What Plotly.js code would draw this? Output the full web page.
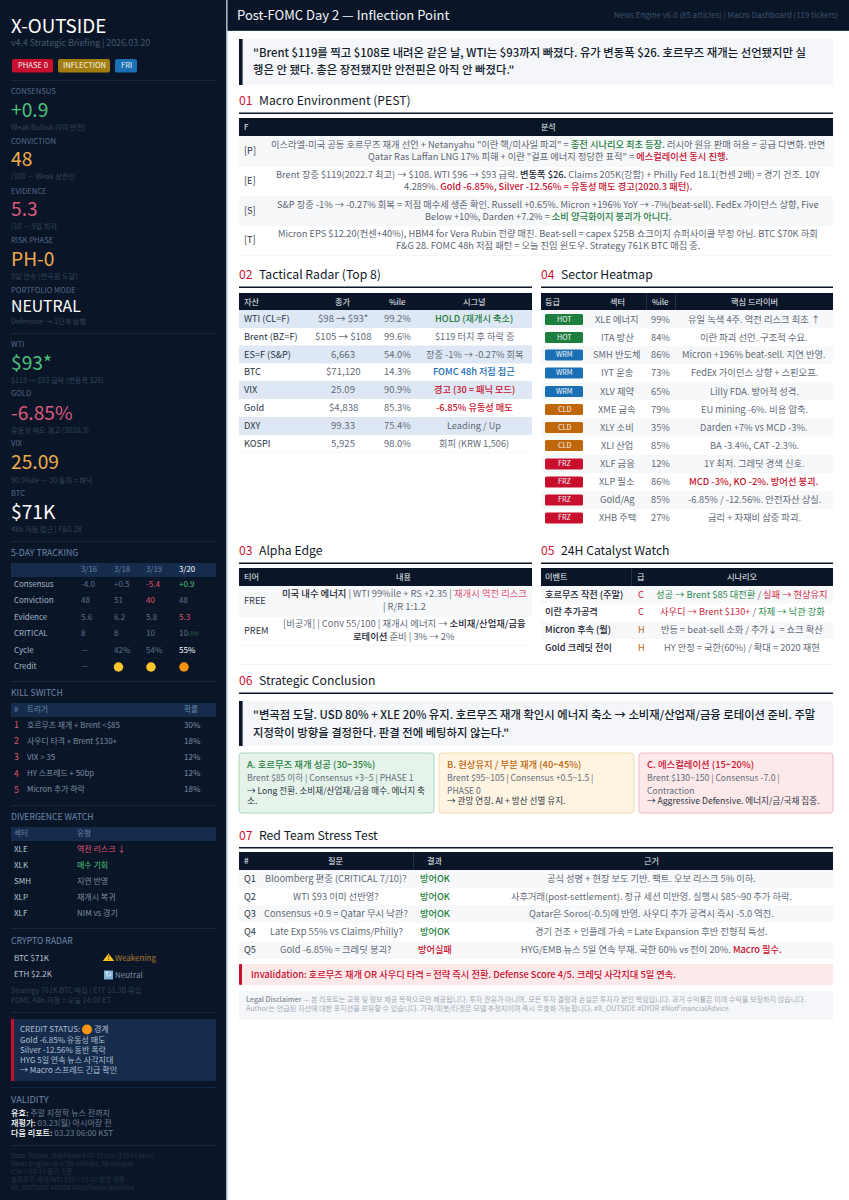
<!DOCTYPE html>
<html><head><meta charset="utf-8">
<script src="https://cdn.plot.ly/plotly-3.0.1.min.js"></script>
<style>html,body{margin:0;padding:0;background:#fff}#c{width:849px;height:1200px}</style></head>
<body><div id="c"></div>
<script>
// ---------- data ----------
const brandTitle = "X-OUTSIDE";
const brandSub = "v4.4 Strategic Briefing | 2026.03.20";
const badgeLabels = ["PHASE 0","INFLECTION","FRI"];
const kpiLabels = ["CONSENSUS","CONVICTION","EVIDENCE","RISK PHASE","PORTFOLIO MODE","WTI","GOLD","VIX","BTC"];
const kpiValues = ["+0.9","48","5.3","PH-0","NEUTRAL","$93*","-6.85%","25.09","$71K"];
const kpiNotes = ["Weak Bullish (V자 반전)","/100 — Weak 상한선","/10 — 5일 최저","5일 연속 (변곡점 도달)","Defensive → 1단계 상향","$119 → $93 급락 (변동폭 $26)","유동성 매도 경고 (2020.3)","90.9%ile — 30 돌파 = 패닉","48h 저점 접근 | F&G 28"];
const trackDates = ["3/16","3/18","3/19","3/20"];
const trackRows = ["Consensus","Conviction","Evidence","CRITICAL","Cycle","Credit"];
const trackConsensus = ["-4.0","+0.5","<r>-5.4</r>","<g>+0.9</g>"];
const trackConviction = ["48","51","<r>40</r>","48"];
const trackEvidence = ["5.6","6.2","5.8","<r>5.3</r>"];
const trackCritical = ["8","8","10","10"];
const trackCycle = ["—","42%","54%","<w>55%</w>"];
const trackCreditNote = ["—"];
const creditDates = ["3/18","3/19","3/20"];
const creditLevel = ["yellow","yellow","orange"];
const killHead = ["#","트리거","확률"];
const killTriggers = ["호르무즈 재개 + Brent &lt;$85","사우디 타격 + Brent $130+","VIX &gt; 35","HY 스프레드 + 50bp","Micron 추가 하락"];
const killProb = ["30%","18%","12%","12%","18%"];
const divHead = ["섹터","유형"];
const divSectors = ["XLE","XLK","SMH","XLP","XLF"];
const divTypes = ["<r>역전 리스크 ↓</r>","<g>매수 기회</g>","지연 반영","재개시 복귀","NIM vs 경기"];
const cryptoNames = ["BTC $71K","ETH $2.2K"];
const cryptoStates = ["Weakening","Neutral"];
const cryptoNotes = ["Strategy 761K BTC 매집 | ETF $1.3B 유입","FOMC 48h 저점 = 오늘 14:00 ET"];
const creditHead = "CREDIT STATUS:";
const creditState = "경계";
const creditLines = ["Gold -6.85% 유동성 매도","Silver -12.56% 동반 폭락","HYG 5일 연속 뉴스 사각지대","→ Macro 스프레드 긴급 확인"];
const validityKeys = ["유효:","재평가:","다음 리포트:"];
const validityVals = ["주말 지정학 뉴스 전까지","03.23(월) 아시아장 전","03.23 06:00 KST"];
const footLines = ["Data: Master_Dashboard 03-19.csv (119 tickers)","News Engine v6.0 (85 articles, 58 unique)","CSV = 03-19 종가 기준","호르무즈 재개/WTI $93 = 03-20 반영 예정","#X_OUTSIDE #DYOR #NotFinancialAdvice"];

const pageTitle = "Post-FOMC Day 2 — Inflection Point";
const pageSource = "News Engine v6.0 (85 articles) | Macro Dashboard (119 tickers)";
const topQuote = ['"Brent $119를 찍고 $108로 내려온 같은 날, WTI는 $93까지 빠졌다. 유가 변동폭 $26. 호르무즈 재개는 선언됐지만 실','행은 안 됐다. 총은 장전됐지만 안전핀은 아직 안 빠졌다."'];
const sectionNums = ["01","02","03","04","05","06","07"];
const sectionNames = ["Macro Environment (PEST)","Tactical Radar (Top 8)","Alpha Edge","Sector Heatmap","24H Catalyst Watch","Strategic Conclusion","Red Team Stress Test"];

const pestKeys = ["[P]","[E]","[S]","[T]"];
const pestLine1 = ['이스라엘-미국 공동 호르무즈 재개 선언 + Netanyahu "이란 핵/미사일 파괴" = <G>종전 시나리오 최초 등장.</G> 러시아 원유 판매 허용 = 공급 다변화. 반면',
 'Brent 장중 $119(2022.7 최고) → $108. WTI $96 → $93 급락. <k>변동폭 $26.</k> Claims 205K(강함) + Philly Fed 18.1(컨센 2배) = 경기 건조. 10Y',
 'S&amp;P 장중 -1% → -0.27% 회복 = 저점 매수세 생존 확인. Russell +0.65%. Micron +196% YoY → -7%(beat-sell). FedEx 가이던스 상향, Five',
 'Micron EPS $12.20(컨센+40%), HBM4 for Vera Rubin 전량 매진. Beat-sell = capex $25B 쇼크이지 슈퍼사이클 부정 아님. BTC $70K 하회'];
const pestLine2 = ['Qatar Ras Laffan LNG 17% 피해 + 이란 "걸프 에너지 정당한 표적" = <R>에스컬레이션 동시 진행.</R>',
 '4.289%. <R>Gold -6.85%, Silver -12.56% = 유동성 매도 경고(2020.3 패턴).</R>',
 'Below +10%, Darden +7.2% = <G>소비 양극화이지 붕괴가 아니다.</G>',
 'F&amp;G 28. FOMC 48h 저점 패턴 = 오늘 진입 윈도우. Strategy 761K BTC 매집 중.'];

const radarHead = ["자산","종가","%ile","시그널"];
const radarAsset = ["WTI (CL=F)","Brent (BZ=F)","ES=F (S&amp;P)","BTC","VIX","Gold","DXY","KOSPI"];
const radarClose = ["$98 → $93*","$105 → $108","6,663","$71,120","25.09","$4,838","99.33","5,925"];
const radarPct = ["99.2%","99.6%","54.0%","14.3%","90.9%","85.3%","75.4%","98.0%"];
const radarSignal = ["<G>HOLD (재개시 축소)</G>","$119 터치 후 하락 중","장중 -1% → -0.27% 회복","<B>FOMC 48h 저점 접근</B>","<R>경고 (30 = 패닉 모드)</R>","<R>-6.85% 유동성 매도</R>","Leading / Up","회피 (KRW 1,506)"];

const heatHead = ["등급","섹터","%ile","핵심 드라이버"];
const heatGrade = ["HOT","HOT","WRM","WRM","WRM","CLD","CLD","CLD","FRZ","FRZ","FRZ","FRZ"];
const heatSector = ["XLE 에너지","ITA 방산","SMH 반도체","IYT 운송","XLV 제약","XME 금속","XLY 소비","XLI 산업","XLF 금융","XLP 필소","Gold/Ag","XHB 주택"];
const heatPct = ["99%","84%","86%","73%","65%","79%","35%","85%","12%","86%","85%","27%"];
const heatDriver = ["유일 녹색 4주. 역전 리스크 최초 ↑","이란 파괴 선언. 구조적 수요.","Micron +196% beat-sell. 지연 반영.","FedEx 가이던스 상향 + 스핀오프.","Lilly FDA. 방어적 성격.","EU mining -6%. 비용 압축.","Darden +7% vs MCD -3%.","BA -3.4%, CAT -2.3%.","1Y 최저. 그레딧 경색 신호.","<R>MCD -3%, KO -2%. 방어선 붕괴.</R>","-6.85% / -12.56%. 안전자산 상실.","금리 + 자재비 삼중 파괴."];

const alphaHead = ["티어","내용"];
const alphaTier = ["FREE","PREM"];
const alphaLine1 = ['<k>미국 내수 에너지</k> | WTI 99%ile + RS +2.35 | <r>재개시 역전 리스크</r>','[비공개] | Conv 55/100 | 재개시 에너지 → <k>소비재/산업재/금융</k>'];
const alphaLine2 = ['| R/R 1:1.2','<k>로테이션</k> 준비 | 3% → 2%'];

const catHead = ["이벤트","급","시나리오"];
const catEvent = ["호르무즈 작전 (주말)","이란 추가공격","Micron 후속 (월)","Gold 크레딧 전이"];
const catLevel = ["C","C","H","H"];
const catScenario = ["<g>성공 → Brent $85 대전환</g> / <r>실패 → 현상유지</r>","<r>사우디 → Brent $130+</r> / <g>자제 → 낙관 강화</g>","반등 = beat-sell 소화 / 추가↓ = 쇼크 확산","HY 안정 = 국한(60%) / 확대 = 2020 재현"];

const bottomQuote = ['"변곡점 도달. USD 80% + XLE 20% 유지. 호르무즈 재개 확인시 에너지 축소 → 소비재/산업재/금융 로테이션 준비. 주말','지정학이 방향을 결정한다. 판결 전에 베팅하지 않는다."'];
const scenTitles = ["A. 호르무즈 재개 성공 (30~35%)","B. 현상유지 / 부분 재개 (40~45%)","C. 에스컬레이션 (15~20%)"];
const scenLines = [
 ["Brent $85 이하 | Consensus +3~5 | PHASE 1","<k2>→ Long 전환. 소비재/산업재/금융 매수. 에너지 축</k2>","<k2>소.</k2>"],
 ["Brent $95~105 | Consensus +0.5~1.5 |","PHASE 0","<k2>→ 관망 연장. AI + 방산 선별 유지.</k2>"],
 ["Brent $130~150 | Consensus -7.0 |","Contraction","<k2>→ Aggressive Defensive. 에너지/금/국채 집중.</k2>"]];

const redHead = ["#","질문","결과","근거"];
const redIds = ["Q1","Q2","Q3","Q4","Q5"];
const redQuestions = ["Bloomberg 편중 (CRITICAL 7/10)?","WTI $93 이미 선반영?","Consensus +0.9 = Qatar 무시 낙관?","Late Exp 55% vs Claims/Philly?","Gold -6.85% = 크레딧 붕괴?"];
const redResults = ["<G>방어OK</G>","<G>방어OK</G>","<G>방어OK</G>","<G>방어OK</G>","<R>방어실패</R>"];
const redEvidence = ["공식 성명 + 현장 보도 기반. 팩트. 오보 리스크 5% 이하.","사후거래(post-settlement). 정규 세션 미반영. 실행시 $85~90 추가 하락.","Qatar은 Soros(-0.5)에 반영. 사우디 추가 공격시 즉시 -5.0 역전.","경기 건조 + 인플레 가속 = Late Expansion 후반 전형적 특성.","HYG/EMB 뉴스 5일 연속 부재. 국한 60% vs 전이 20%. <R>Macro 필수.</R>"];
const invalidation = "Invalidation: 호르무즈 재개 OR 사우디 타격 = 전략 즉시 전환. Defense Score 4/5. 크레딧 사각지대 5일 연속.";
const disclaimer = ["<l>Legal Disclaimer</l> — 본 리포트는 교육 및 정보 제공 목적으로만 제공됩니다. 투자 권유가 아니며, 모든 투자 결정과 손실은 투자자 본인 책임입니다. 과거 수익률은 미래 수익을 보장하지 않습니다.","Author는 언급된 자산에 대한 포지션을 보유할 수 있습니다. 가격/피봇/타겟은 모델 추정치이며 즉시 무효화 가능합니다. #X_OUTSIDE #DYOR #NotFinancialAdvice"];

// ---------- palette & helpers ----------
const NAVY="#0a1628", PANEL="#152c4d", RED="#c8102e", GREEN="#1e7e3e", BLUE="#1a6fb5", ORANGE="#c0660a";
const FONT='"Noto Sans CJK KR","Noto Sans",sans-serif';
const M='font-weight:500;';
const tags={r:'<span style="color:#e0526f">$</span>',g:'<span style="color:#4ac27a">$</span>',w:'<span style="color:#ffffff">$</span>',
 R:'<span style="'+M+'color:'+RED+'">$</span>',G:'<span style="'+M+'color:'+GREEN+'">$</span>',B:'<span style="'+M+'color:'+BLUE+'">$</span>',
 k:'<span style="'+M+'color:#1a2433">$</span>',k2:'<span style="color:#2a3442">$</span>',l:'<span style="'+M+'color:#7d8794">$</span>'};
function mk(s){return String(s).replace(/<(k2|[rgwRGBkl])>(.*?)<\/\1>/g,(m,t,b)=>tags[t].replace('$',()=>b));}
const anns=[],shapes=[];
function T(x,y,t,size,color,anchor,opt){anns.push({x,y:y-0.8,xref:'x',yref:'y',text:mk(t),showarrow:false,xanchor:anchor||'left',yanchor:'middle',borderpad:0,borderwidth:0,
  font:{family:FONT,size,color,weight:(opt&&opt.w)||400},align:anchor||'left'});}
function R(x0,y0,x1,y1,fill,line){shapes.push({type:'rect',xref:'x',yref:'y',x0,y0,x1,y1,fillcolor:fill,line:{width:line?1:0,color:line||fill},layer:'below'});}
function RR(x0,y0,x1,y1,r,fill,line){const p=`M${x0+r},${y0}L${x1-r},${y0}Q${x1},${y0} ${x1},${y0+r}L${x1},${y1-r}Q${x1},${y1} ${x1-r},${y1}L${x0+r},${y1}Q${x0},${y1} ${x0},${y1-r}L${x0},${y0+r}Q${x0},${y0} ${x0+r},${y0}Z`;
  shapes.push({type:'path',xref:'x',yref:'y',path:p,fillcolor:fill,line:{width:line?1:0,color:line||fill},layer:'below'});}

// ---------- sidebar ----------
R(0,0,226,1200,NAVY); R(226,0,227.5,1200,"#a3b2c7");
T(11,25,brandTitle,18.8,"#ffffff");
T(11,43,brandSub,8.8,"#46566f");
const bx=[[12,53,RED],[58,110,"#a37d0c"],[115,137,BLUE]];
badgeLabels.forEach((b,i)=>{RR(bx[i][0],59,bx[i][1],72.5,2,bx[i][2]);T((bx[i][0]+bx[i][1])/2,65.7,b,7.6,"#f2f4f7","center");});
[80,333,541,681,805,928,1012,1087,1145].forEach(y=>R(11,y,216,y+0.8,"#1a2c47"));
const kpiY=[[91.5,110,127.5],[141,159,176.5],[191,209,226.5],[240,258.5,276.5],[290,306,322],[344.3,362.6,380.8],[393.7,412.6,430.8],[443.7,462,480.5],[493.7,511.6,529.8]];
const kpiC=["#4ac27a","#eeaa4a","#dd5a7c","#eeaa4a","#ffffff","#4ac27a","#dd5a7c","#eeaa4a","#ffffff"];
kpiLabels.forEach((l,i)=>{T(11,kpiY[i][0],l,7.6,"#56698a");T(11,kpiY[i][1],kpiValues[i],i==4?15.8:19.2,kpiC[i]);T(11,kpiY[i][2],kpiNotes[i],7.2,"#33435c");});

T(11,553,"5-DAY TRACKING",8.7,"#6d87aa");
R(11,563,216,577,PANEL);
const tcol=[81,113.5,146,179];
trackDates.forEach((d,i)=>T(tcol[i],569.5,d,7.8,i==3?"#ffffff":"#6b83a4"));
const trY=[584,600.5,617,633,650,666];
trackRows.forEach((l,i)=>{T(14,trY[i],l,7.9,"#a8b6c8");R(11,trY[i]+8,216,trY[i]+8.6,"#111f35");});
[trackConsensus,trackConviction,trackEvidence,trackCritical,trackCycle].forEach((row,r)=>row.forEach((v,i)=>T(tcol[i],trY[r],v,8,"#60718a")));
T(188,634,"(공식)",4.4,"#2f7a50");
T(tcol[0],trY[5],trackCreditNote[0],8,"#60718a");

T(11,693,"KILL SWITCH",8.7,"#6d87aa");
R(11,703,216,717,PANEL);
T(14,709.5,killHead[0],7.6,"#6b83a4");T(27,709.5,killHead[1],7.6,"#6b83a4");T(184,709.5,killHead[2],7.6,"#6b83a4");
const kY=[725,741,757,773.5,789.5];
killTriggers.forEach((t,i)=>{T(14,kY[i],String(i+1),8.6,"#e0526f");T(27,kY[i],t,7.9,"#7e8da2");T(184,kY[i],killProb[i],8,"#7e8da2");R(11,kY[i]+8,216,kY[i]+8.6,"#111f35");});

T(11,817,"DIVERGENCE WATCH",8.6,"#6d87aa");
R(11,827,216,841,PANEL);
T(14,833.5,divHead[0],7.6,"#6b83a4");T(77,833.5,divHead[1],7.6,"#6b83a4");
const dY=[849,865,881,897,913];
divSectors.forEach((s,i)=>{T(14,dY[i],s,8,"#b6c3d3");T(77,dY[i],divTypes[i],8,"#7e8da2");R(11,dY[i]+8,216,dY[i]+8.6,"#111f35");});

T(11,941,"CRYPTO RADAR",8.7,"#6d87aa");
const cY=[958,974.5];
cryptoNames.forEach((s,i)=>{T(14,cY[i],s,8,"#b6c3d3");T(115,cY[i]+.5,cryptoStates[i],8,i?"#7e8da2":"#b07a2a");R(11,cY[i]+8,216,cY[i]+8.6,"#111f35");});
cryptoNotes.forEach((s,i)=>T(11,991+i*10,s,7.3,"#2f3f57"));

RR(11,1019,216,1081,1.5,PANEL);R(11,1019,14,1081,RED);
T(20,1029.5,creditHead,8,"#b2bfce");T(94,1029.5,creditState,8,"#b2bfce");
const clY=[1040,1050,1060,1070];
creditLines.forEach((s,i)=>T(20,clY[i],s,8,"#b2bfce"));

T(11,1099.5,"VALIDITY",9.2,"#6d87aa");
validityKeys.forEach((k,i)=>{const v=`<span style="color:#ffffff;font-weight:500">${k}</span> ${validityVals[i]}`;T(11,1113+i*10.2,v,8.1,"#6f7f95");});
footLines.forEach((s,i)=>T(11,1156+i*8,s,6.5,"#253349"));

// ---------- main ----------
R(227.5,0,849,30,NAVY);R(227.5,30,849,31,"#2a3a52");
T(237,15,pageTitle,13,"#f5f7fa");
T(838,15,pageSource,7.85,"#3d526f","right");

function quote(y0,y1,lines,yy){R(239,y0,833,y1,"#f4f6f9");R(239,y0,242.6,y1,NAVY);lines.forEach((s,i)=>T(253,yy[i],s,11.35,"#121c2c","left",{w:500}));}
quote(39,85,topQuote,[53,70]);
function sect(i,x,y,x1){T(x,y,sectionNums[i],12.2,RED);T(x+20,y,sectionNames[i],12.2,"#111a29","left");R(x,y+11.5,x1,y+13,NAVY);}
function headRow(x0,x1,y0,y1,seps){R(x0,y0,x1,y1,NAVY);(seps||[]).forEach(s=>R(s,y0,s+.6,y1,"#33445e"));}

sect(0,239,101,833);
headRow(239,833,118,136);
T(244,127,"F",8,"#eef1f5");T(548,127,"분석",8,"#eef1f5","center");
const pY=[[145,157],[175,187],[205,216.5],[234,246]];
const pB=[[137,166],[167,196],[197,225],[226,255]];
pestKeys.forEach((k,i)=>{if(i%2==0)R(239,pB[i][0]-1,833,pB[i][1],"#f7f8fa");R(239,pB[i][1],833,pB[i][1]+.6,"#eceef2");
 T(244,(pY[i][0]+pY[i][1])/2,k,9.2,"#2b3544");T(548,pY[i][0],pestLine1[i],9.25,"#5c6572","center");T(548,pY[i][1],pestLine2[i],9.25,"#5c6572","center");});

sect(1,239,275,532);
headRow(239,532,293,310);
T(244,301.5,radarHead[0],8.2,"#eef1f5");T(343,301.5,radarHead[1],8.2,"#eef1f5","center");T(397,301.5,radarHead[2],8.2,"#eef1f5","center");T(474,301.5,radarHead[3],8.2,"#eef1f5","center");
const rY=[319,336.5,354.5,372,390,408,426,443.5];
radarAsset.forEach((a,i)=>{if(i%2==0)R(239,rY[i]-9,532,rY[i]+9,"#dee8f4");
 T(244,rY[i],a,9.2,"#2b3544");T(343,rY[i],radarClose[i],9.6,"#626b78","center");T(397,rY[i],radarPct[i],9.4,"#626b78","center");T(474,rY[i],radarSignal[i],9.2,"#626b78","center");});
R(239,452.5,532,453,"#eceef2");

sect(3,541,275,833);
headRow(541,833,293,310,[646,675]);
T(545,301.5,heatHead[0],8.2,"#eef1f5");T(617,301.5,heatHead[1],8.2,"#eef1f5","center");T(660,301.5,heatHead[2],8.2,"#eef1f5","center");T(754,301.5,heatHead[3],8.2,"#eef1f5","center");
const gradeCol={HOT:GREEN,WRM:BLUE,CLD:ORANGE,FRZ:RED};
const hY=[319.5,337.5,355,373,391.5,409.5,427.5,445.5,464,482,500,518];
heatGrade.forEach((g,i)=>{if(i%2==0)R(541,hY[i]-9,833,hY[i]+9,"#f7f8fa");
 RR(545,hY[i]-5.5,583,hY[i]+5.5,1.5,gradeCol[g]);T(564,hY[i],g,7.2,"#f2f4f7","center");
 T(617,hY[i],heatSector[i],9.3,"#626b78","center");T(660,hY[i],heatPct[i],9.3,"#626b78","center");T(754,hY[i],heatDriver[i],9.3,"#626b78","center");});

sect(2,239,551,532);
headRow(239,532,568,586);
T(244,577,alphaHead[0],8.2,"#eef1f5");T(404,577,alphaHead[1],8.2,"#eef1f5","center");
const aY=[[594,607],[624,637]];
alphaTier.forEach((a,i)=>{if(i==0)R(239,586,532,617,"#f7f8fa");T(244,(aY[i][0]+aY[i][1])/2,a,9.2,"#2b3544");
 T(404,aY[i][0],alphaLine1[i],9.35,"#626b78","center");T(404,aY[i][1],alphaLine2[i],9.35,"#626b78","center");});
R(239,645.5,532,646,"#eceef2");

sect(4,541,551,833);
headRow(541,833,568,586,[631]);
T(545,577,catHead[0],8.2,"#eef1f5");T(641,577,catHead[1],8.2,"#eef1f5","center");T(742,577,catHead[2],8.2,"#eef1f5","center");
const ctY=[594.5,612,630,648];
catEvent.forEach((e,i)=>{if(i%2==0)R(541,ctY[i]-8.5,833,ctY[i]+9,"#f7f8fa");T(545,ctY[i],`<k>${e}</k>`,9.2,"#2b3544");
 T(641,ctY[i],catLevel[i],9.2,catLevel[i]=="C"?RED:ORANGE,"center");T(742,ctY[i],catScenario[i].replace(/<g>(.*?)<\/g>/g,'<span style="color:#2d8a4e">$1</span>').replace(/<r>(.*?)<\/r>/g,'<span style="color:#cf2a45">$1</span>'),9.25,"#626b78","center");});
R(239,664,833,665,"#f1f3f6");

sect(5,239,681,833);
quote(701,746,bottomQuote,[715,733]);
const sc=[[239,434,"#e6f3ea","#a9d6b7",GREEN],[439,634,"#fff3e2","#f5dcae",ORANGE],[639,833,"#fde8ea","#f0b9c0",RED]];
scenTitles.forEach((t,i)=>{RR(sc[i][0],753,sc[i][1],813,3,sc[i][2],sc[i][3]);T(sc[i][0]+8,765,t,9.4,sc[i][4],"left",{w:500});
 scenLines[i].forEach((s,j)=>T(sc[i][0]+8,[778,790.5,801][j],s,8.6,"#646d79"));});

sect(6,239,835.5,833);
headRow(239,833,852,870,[413]);
T(244,861,redHead[0],8.2,"#eef1f5");T(336,861,redHead[1],8.2,"#eef1f5","center");T(435,861,redHead[2],8.2,"#eef1f5","center");T(651,861,redHead[3],8.2,"#eef1f5","center");
const qY=[879,896.5,914,932,950];
redIds.forEach((q,i)=>{if(i%2==0)R(239,qY[i]-9,833,qY[i]+9,"#f7f8fa");
 T(244,qY[i],q,9.2,"#2b3544");T(336,qY[i],redQuestions[i],9.35,"#626b78","center");T(435,qY[i],redResults[i],9.2,"#626b78","center");T(651,qY[i],redEvidence[i],9.25,"#626b78","center");});

R(239,964,833,985,"#fde8ea");RR(239,964,242,985,1,RED);
T(251,974.5,invalidation,9.25,RED,"left",{w:500});
R(239,991,833,1020,"#f4f6f9");
disclaimer.forEach((s,i)=>T(246,1000+i*9,s,7.1,"#a4abb6"));

// ---------- marker traces (credit lights, crypto icons) ----------
const lightColor={yellow:"#fdc52c",orange:"#f7930e"};
const traces=[
 {type:'scatter',mode:'markers',x:tcol.slice(1).map(v=>v+5),y:creditDates.map(()=>667),marker:{size:9.5,color:creditLevel.map(c=>lightColor[c])},hoverinfo:'skip',showlegend:false},
 {type:'scatter',mode:'markers',x:[87],y:[1029.5],marker:{size:10,color:"#f7930e"},hoverinfo:'skip',showlegend:false},
 {type:'scatter',mode:'markers+text',x:[108.5],y:[958.5],marker:{size:10,symbol:'triangle-up',color:"#fcc21b"},text:["!"],textposition:'middle center',textfont:{size:6.5,color:"#2a2a2a",family:FONT},hoverinfo:'skip',showlegend:false},
 {type:'scatter',mode:'markers+text',x:[108.5],y:[975],marker:{size:9,symbol:'square',color:"#7fb2d4"},text:["↻"],textposition:'middle center',textfont:{size:8,color:"#f4f7fa",family:FONT},hoverinfo:'skip',showlegend:false}
];

Plotly.newPlot('c',traces,{
 width:849,height:1200,margin:{l:0,r:0,t:0,b:0,pad:0},paper_bgcolor:"#ffffff",plot_bgcolor:"#ffffff",showlegend:false,
 font:{family:FONT},
 xaxis:{range:[0,849],visible:false,fixedrange:true},yaxis:{range:[1200,0],visible:false,fixedrange:true},
 shapes,annotations:anns
},{staticPlot:true,displayModeBar:false});
</script></body></html>
